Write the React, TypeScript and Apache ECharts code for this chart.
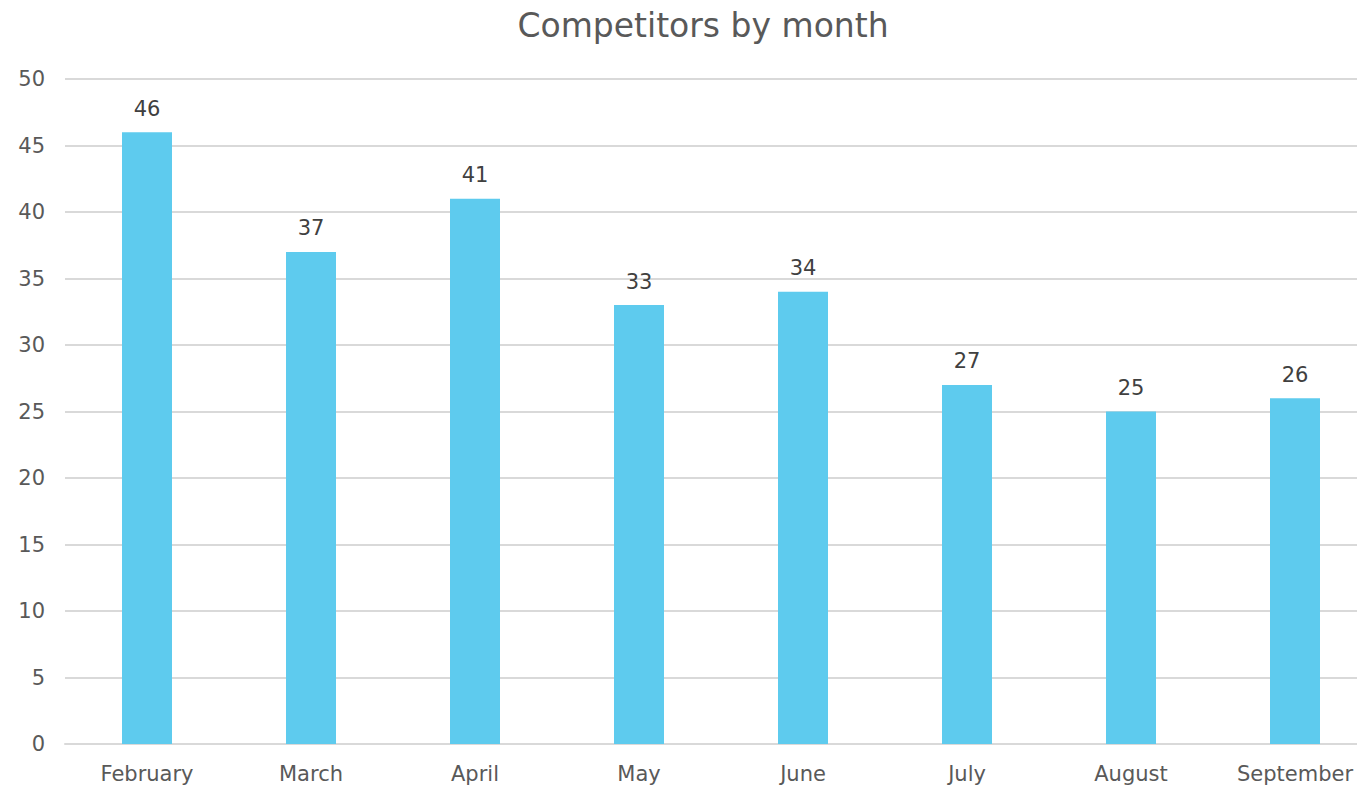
import React, { useEffect, useRef } from "react";
import * as echarts from "echarts";

const months = ["February", "March", "April", "May", "June", "July", "August", "September"];
const competitors = [46, 37, 41, 33, 34, 27, 25, 26];
const yTicks = [0, 50, 5];

const FONT = "DejaVu Sans";

export default function App() {
  const ref = useRef<HTMLDivElement>(null);
  useEffect(() => {
    if (!ref.current) return;
    const chart = echarts.init(ref.current, undefined, { renderer: "svg" });
    chart.setOption({
      animation: false,
      backgroundColor: "#ffffff",
      title: {
        text: "Competitors by month",
        left: 698,
        textAlign: "center",
        top: 4,
        textStyle: { fontFamily: FONT, fontSize: 33, fontWeight: "normal", color: "#595959" },
      },
      grid: { left: 65, right: 0, top: 79, bottom: 45, containLabel: false },
      xAxis: {
        type: "category",
        data: months,
        axisLine: { lineStyle: { color: "#d9d9d9", width: 2 } },
        axisTick: { show: false },
        axisLabel: { fontFamily: FONT, fontSize: 21, color: "#595959", margin: 19 },
      },
      yAxis: {
        type: "value",
        min: yTicks[0],
        max: yTicks[1],
        interval: yTicks[2],
        axisLine: { show: false },
        axisTick: { show: false },
        splitLine: { lineStyle: { color: "#d9d9d9", width: 2 } },
        axisLabel: { fontFamily: FONT, fontSize: 21, color: "#595959", margin: 20 },
      },
      series: [
        {
          type: "bar",
          data: competitors,
          barWidth: 50,
          itemStyle: { color: "#5ECBEE" },
          label: {
            show: true,
            position: "top",
            distance: 13,
            fontFamily: FONT,
            fontSize: 21,
            color: "#404040",
          },
        },
      ],
    });
    return () => chart.dispose();
  }, []);
  return (
    <div style={{ position: "fixed", left: 0, top: 0, width: 1357, height: 789, overflow: "hidden", background: "#fff" }}>
      <div ref={ref} style={{ position: "absolute", left: 0, top: 0, width: 1377, height: 789 }} />
    </div>
  );
}
